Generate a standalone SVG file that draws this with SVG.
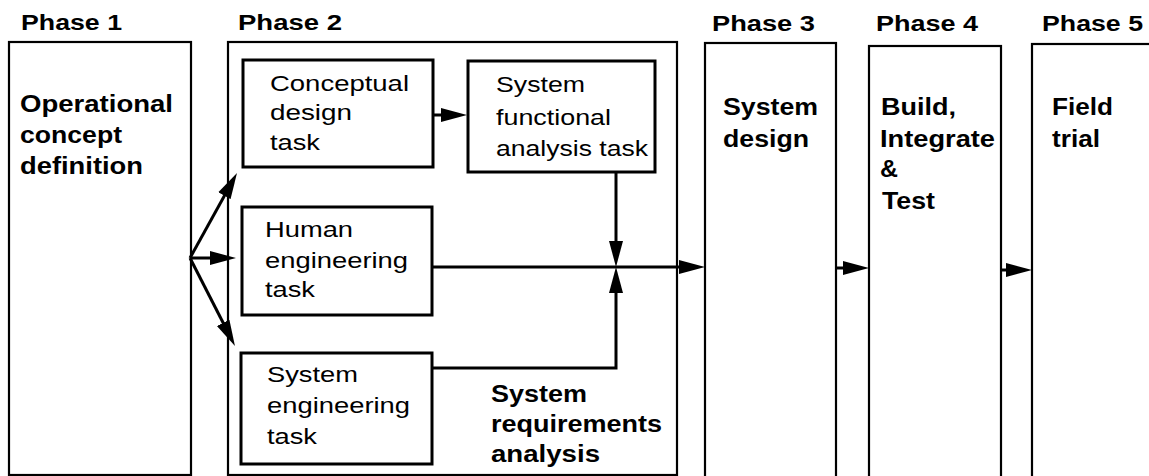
<svg xmlns="http://www.w3.org/2000/svg" width="1149" height="476" viewBox="0 0 1149 476">
<style>
  .phase { fill: none; stroke: #000; stroke-width: 2.2; }
  .task { fill: none; stroke: #000; stroke-width: 3; }
  .b { font-family: "Liberation Sans", Arial, sans-serif; font-weight: bold; font-size: 23px; fill: #000; }
  .h { font-family: "Liberation Sans", Arial, sans-serif; font-weight: bold; font-size: 22px; fill: #000; }
  .r { font-family: "Liberation Sans", Arial, sans-serif; font-size: 22px; fill: #000; }
  .c { fill: none; stroke: #000; stroke-width: 3; }
</style>
<defs>
  <marker id="ah" markerUnits="userSpaceOnUse" markerWidth="26" markerHeight="16" refX="14" refY="8" orient="auto">
    <path d="M0,1 L26,8 L0,15 Z" fill="#000"/>
  </marker>
</defs>

<g id="phase1">
  <text class="h" x="21" y="30" textLength="101" lengthAdjust="spacingAndGlyphs">Phase 1</text>
  <rect class="phase" x="9" y="42" width="182" height="433"/>
  <text class="b" x="20" y="112" textLength="153" lengthAdjust="spacingAndGlyphs">Operational</text>
  <text class="b" x="20" y="143" textLength="102" lengthAdjust="spacingAndGlyphs">concept</text>
  <text class="b" x="20" y="174" textLength="123" lengthAdjust="spacingAndGlyphs">definition</text>
</g>

<g id="phase2">
  <text class="h" x="238" y="30" textLength="104" lengthAdjust="spacingAndGlyphs">Phase 2</text>
  <rect class="phase" x="228" y="42" width="449" height="433"/>
  <text class="b" x="491" y="402" textLength="96" lengthAdjust="spacingAndGlyphs">System</text>
  <text class="b" x="491" y="432" textLength="171" lengthAdjust="spacingAndGlyphs">requirements</text>
  <text class="b" x="491" y="462" textLength="109" lengthAdjust="spacingAndGlyphs">analysis</text>
</g>

<g id="conceptual">
  <rect class="task" x="243" y="60" width="190" height="107"/>
  <text class="r" x="270" y="91" textLength="139" lengthAdjust="spacingAndGlyphs">Conceptual</text>
  <text class="r" x="270" y="120" textLength="82" lengthAdjust="spacingAndGlyphs">design</text>
  <text class="r" x="270" y="150" textLength="50" lengthAdjust="spacingAndGlyphs">task</text>
</g>

<g id="functional">
  <rect class="task" x="468" y="61" width="187" height="111"/>
  <text class="r" x="496" y="92" textLength="89" lengthAdjust="spacingAndGlyphs">System</text>
  <text class="r" x="496" y="125" textLength="115" lengthAdjust="spacingAndGlyphs">functional</text>
  <text class="r" x="496" y="156" textLength="152" lengthAdjust="spacingAndGlyphs">analysis task</text>
</g>

<g id="human">
  <rect class="task" x="242" y="207" width="190" height="108"/>
  <text class="r" x="265" y="237" textLength="88" lengthAdjust="spacingAndGlyphs">Human</text>
  <text class="r" x="265" y="268" textLength="143" lengthAdjust="spacingAndGlyphs">engineering</text>
  <text class="r" x="265" y="297" textLength="50" lengthAdjust="spacingAndGlyphs">task</text>
</g>

<g id="syseng">
  <rect class="task" x="241" y="353" width="191" height="111"/>
  <text class="r" x="267" y="382" textLength="91" lengthAdjust="spacingAndGlyphs">System</text>
  <text class="r" x="267" y="413" textLength="143" lengthAdjust="spacingAndGlyphs">engineering</text>
  <text class="r" x="267" y="444" textLength="50" lengthAdjust="spacingAndGlyphs">task</text>
</g>

<g id="phase3">
  <text class="h" x="712" y="31" textLength="103" lengthAdjust="spacingAndGlyphs">Phase 3</text>
  <rect class="phase" x="705" y="43" width="131" height="440"/>
  <text class="b" x="723" y="115" textLength="95" lengthAdjust="spacingAndGlyphs">System</text>
  <text class="b" x="723" y="147" textLength="86" lengthAdjust="spacingAndGlyphs">design</text>
</g>

<g id="phase4">
  <text class="h" x="876" y="31" textLength="102" lengthAdjust="spacingAndGlyphs">Phase 4</text>
  <rect class="phase" x="869" y="46" width="132" height="440"/>
  <text class="b" x="881" y="115" textLength="75" lengthAdjust="spacingAndGlyphs">Build,</text>
  <text class="b" x="880" y="147" textLength="115" lengthAdjust="spacingAndGlyphs">Integrate</text>
  <text class="b" x="880" y="177" textLength="18" lengthAdjust="spacingAndGlyphs">&amp;</text>
  <text class="b" x="882" y="209" textLength="53" lengthAdjust="spacingAndGlyphs">Test</text>
</g>

<g id="phase5">
  <text class="h" x="1042" y="31" textLength="101" lengthAdjust="spacingAndGlyphs">Phase 5</text>
  <rect class="phase" x="1032" y="44" width="140" height="440"/>
  <text class="b" x="1052" y="115" textLength="61" lengthAdjust="spacingAndGlyphs">Field</text>
  <text class="b" x="1052" y="147" textLength="48" lengthAdjust="spacingAndGlyphs">trial</text>
</g>

<g id="connectors">
  <path class="c" d="M190,258 L231.2,183.5" marker-end="url(#ah)"/>
  <path class="c" d="M190,258 L224,258" marker-end="url(#ah)"/>
  <path class="c" d="M190,258 L229.5,335.3" marker-end="url(#ah)"/>
  <path class="c" d="M433,115 L455,115" marker-end="url(#ah)"/>
  <path class="c" d="M616,172 L616,255" marker-end="url(#ah)"/>
  <path class="c" d="M432,267 L693,267" marker-end="url(#ah)"/>
  <path class="c" d="M432,368 L616,368 L616,279" marker-end="url(#ah)"/>
  <path class="c" d="M836,268 L857,268" marker-end="url(#ah)"/>
  <path class="c" d="M1001,270 L1020,270" marker-end="url(#ah)"/>
</g>
</svg>
